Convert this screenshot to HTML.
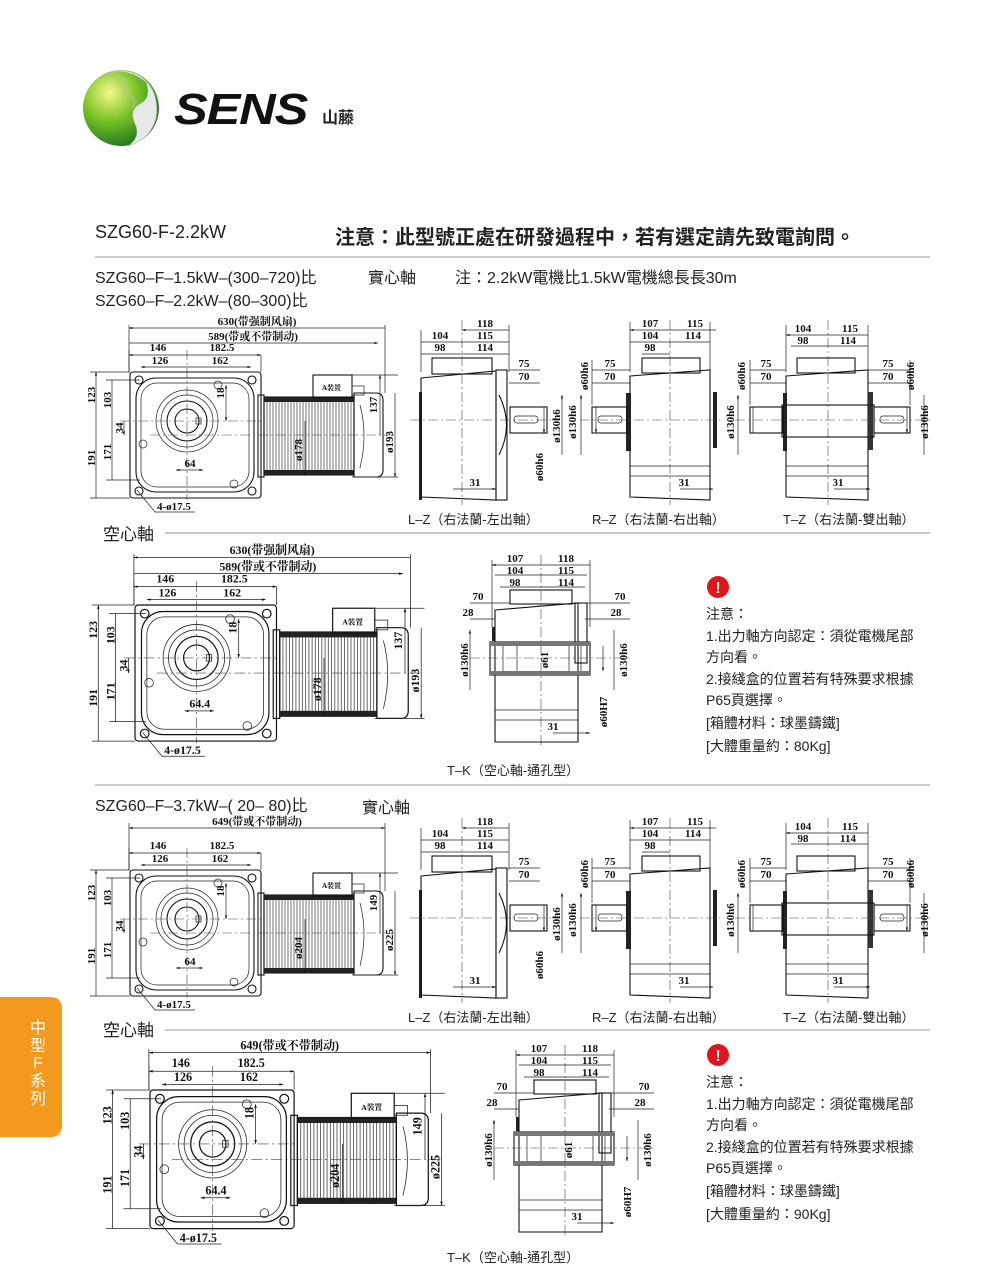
<!DOCTYPE html>
<html><head><meta charset="utf-8">
<style>
html,body{margin:0;padding:0;background:#fff}
svg{display:block}
.d{font-family:"Liberation Serif","Noto Serif CJK SC",serif;font-weight:bold;font-size:11px;fill:#111}
.s{font-family:"Liberation Sans","Noto Sans CJK TC",sans-serif;fill:#222}
.l{stroke:#222;stroke-width:0.7;fill:none}
.t{stroke:#111;stroke-width:1.1;fill:none}
.c{stroke:#444;stroke-width:0.6;stroke-dasharray:10 3 2 3;fill:none}
</style></head><body>
<svg width="1000" height="1281" viewBox="0 0 1000 1281" xmlns="http://www.w3.org/2000/svg">
<defs>
<radialGradient id="gg" cx="0.35" cy="0.3" r="0.8"><stop offset="0" stop-color="#f4f98a"/><stop offset="0.45" stop-color="#7cc427"/><stop offset="1" stop-color="#0f6a22"/></radialGradient>
<marker id="a" viewBox="0 0 6 6" refX="6" refY="3" markerWidth="5" markerHeight="5" orient="auto-start-reverse"><path d="M0,1 L6,3 L0,5z" fill="#111"/></marker>

<g id="front">
 <rect x="130" y="372" width="131" height="126" rx="3" class="t"/>
 <rect x="136" y="378" width="118" height="114" rx="20" class="t"/>
 <rect x="141" y="383" width="108" height="104" rx="16" class="l"/>
 <circle cx="139" cy="380" r="4" class="t"/><circle cx="252" cy="380" r="4" class="t"/>
 <circle cx="139" cy="491" r="4" class="t"/><circle cx="252" cy="491" r="4" class="t"/>
 <circle cx="218" cy="385" r="4" class="l"/><circle cx="143" cy="444" r="4" class="l"/><circle cx="234" cy="484" r="4" class="l"/>
 <circle cx="187" cy="421" r="31" class="l"/><circle cx="187" cy="421" r="26" class="l"/>
 <circle cx="187" cy="421" r="20" class="t"/><circle cx="187" cy="421" r="12" class="t"/>
 <rect x="196" y="418" width="5" height="6" class="l"/>
 <rect x="258" y="395" width="6" height="82" class="t" fill="#fff"/>
 <rect x="264" y="397" width="90" height="78" class="t"/>
 <path d="M267 397V475M270 397V475M273 397V475M276 397V475M279 397V475M282 397V475M285 397V475M288 397V475M291 397V475M294 397V475M297 397V475M300 397V475M303 397V475M306 397V475M309 397V475M312 397V475M315 397V475M318 397V475M321 397V475M324 397V475M327 397V475M330 397V475M333 397V475M336 397V475M339 397V475M342 397V475M345 397V475M348 397V475M351 397V475" stroke="#555" stroke-width="0.8"/>
 <rect x="264" y="397" width="90" height="5" fill="#222"/><rect x="264" y="470" width="90" height="5" fill="#222"/>
 <path d="M354 393 H376 Q383 393 383 400 V470 Q383 477 376 477 H354 Z" class="t"/>
 <path d="M360 405 Q368 435 360 468" class="l"/>
 <rect x="313" y="375" width="39" height="23" class="t" fill="#fff"/>
 <rect x="352" y="386" width="12" height="9" class="l"/>
 <text x="322" y="390" class="d" style="font-size:7px">A裝置</text>
 <path d="M120 421H265" class="c"/><path d="M150 435H395" class="c"/>
 <path d="M187 350V500" class="c"/>
 <path d="M129 350V372M261 355V372" class="l"/>
 <path d="M129 355H187M187 355H261" class="l" marker-start="url(#a)" marker-end="url(#a)"/>
 <path d="M141 367H187M187 367H251" class="l" marker-start="url(#a)" marker-end="url(#a)"/>
 <path d="M96 372V421M96 421V498M112 380V421M112 421V480M124 421V435" class="l" marker-start="url(#a)" marker-end="url(#a)"/>
 <path d="M90 372H130M90 498H130M106 380H140M106 480H140" class="l"/>
 <path d="M176 470H203" class="l" marker-start="url(#a)" marker-end="url(#a)"/>
 <path d="M226 385V421" class="l" marker-start="url(#a)" marker-end="url(#a)"/>
 <path d="M305 421V475" class="l" marker-end="url(#a)"/>
 <path d="M352 375H398M352 477H398" class="l"/>
 <path d="M380 375V435M395 393V477" class="l" marker-start="url(#a)" marker-end="url(#a)"/>
 <path d="M137 490L155 512H195" class="l"/>
 <text x="158" y="351" class="d" text-anchor="middle">146</text>
 <text x="222" y="351" class="d" text-anchor="middle">182.5</text>
 <text x="160" y="364" class="d" text-anchor="middle">126</text>
 <text x="220" y="364" class="d" text-anchor="middle">162</text>
 <text transform="translate(95,395) rotate(-90)" class="d" text-anchor="middle">123</text>
 <text transform="translate(95,458) rotate(-90)" class="d" text-anchor="middle">191</text>
 <text transform="translate(111,400) rotate(-90)" class="d" text-anchor="middle">103</text>
 <text transform="translate(111,452) rotate(-90)" class="d" text-anchor="middle">171</text>
 <text transform="translate(123,428) rotate(-90)" class="d" text-anchor="middle">34</text>
 <text transform="translate(224,393) rotate(-90)" class="d" text-anchor="middle">18</text>
 <text x="157" y="510" class="d">4-ø17.5</text>
</g>

<g id="sides">
 <rect x="419" y="392" width="3" height="108" fill="#222"/>
 <path d="M421 378 L496 371 V500 L421 497 Z" class="t" fill="#fff"/>
 <rect x="432" y="358" width="60" height="16" class="t"/>
 <rect x="496" y="370" width="11" height="130" class="t"/>
 <path d="M499 395 Q514 425 499 455" class="t"/>
 <rect x="510" y="407" width="37" height="26" class="t"/>
 <rect x="514" y="416" width="24" height="7" rx="3" class="l"/>
 <path d="M462 320V505M410 420H560" class="c"/>
 <path d="M421 330V372M509 325V372M421 354V372" class="l"/>
 <path d="M462 330H509M421 342H462M462 342H509M421 354H462M462 354H509M509 370H540M509 383H540M453 489H496" class="l" marker-start="url(#a)" marker-end="url(#a)"/>
 <path d="M562 395V455M544 407V433" class="l" marker-start="url(#a)" marker-end="url(#a)"/>
 <text x="485" y="327" class="d" text-anchor="middle">118</text>
 <text x="440" y="339" class="d" text-anchor="middle">104</text><text x="485" y="339" class="d" text-anchor="middle">115</text>
 <text x="440" y="351" class="d" text-anchor="middle">98</text><text x="485" y="351" class="d" text-anchor="middle">114</text>
 <text x="524" y="367" class="d" text-anchor="middle">75</text><text x="524" y="380" class="d" text-anchor="middle">70</text>
 <text transform="translate(560,426) rotate(-90)" class="d" text-anchor="middle">ø130h6</text>
 <text transform="translate(543,467) rotate(-90)" class="d" text-anchor="middle">ø60h6</text>
 <text x="475" y="486" class="d" text-anchor="middle">31</text>
 <rect x="713" y="392" width="4" height="56" fill="#222"/>
 <path d="M630 376 L710 370 V500 L630 497 Z" class="t" fill="#fff"/>
 <rect x="642" y="358" width="58" height="15" class="t"/>
 <rect x="626" y="393" width="5" height="58" fill="#222"/>
 <path d="M630 466H710M630 476H710" class="l"/>
 <rect x="592" y="407" width="35" height="26" class="t"/>
 <rect x="598" y="416" width="24" height="7" rx="3" class="l"/>
 <path d="M670 320V505M580 420H720" class="c"/>
 <path d="M630 322V372M710 322V372M592 360V405" class="l"/>
 <path d="M630 330H670M670 330H716M630 342H670M670 342H710M642 354H670M592 370H630M592 383H630M680 489H713" class="l" marker-start="url(#a)" marker-end="url(#a)"/>
 <path d="M581 395V455M596 407V433" class="l" marker-start="url(#a)" marker-end="url(#a)"/>
 <text x="650" y="327" class="d" text-anchor="middle">107</text><text x="695" y="327" class="d" text-anchor="middle">115</text>
 <text x="650" y="339" class="d" text-anchor="middle">104</text><text x="693" y="339" class="d" text-anchor="middle">114</text>
 <text x="650" y="351" class="d" text-anchor="middle">98</text>
 <text x="610" y="367" class="d" text-anchor="middle">75</text><text x="610" y="380" class="d" text-anchor="middle">70</text>
 <text transform="translate(588,376) rotate(-90)" class="d" text-anchor="middle">ø60h6</text>
 <text transform="translate(576,422) rotate(-90)" class="d" text-anchor="middle">ø130h6</text>
 <text x="684" y="486" class="d" text-anchor="middle">31</text>
 <path d="M786 376 L868 370 V500 L786 497 Z" class="t" fill="#fff"/>
 <rect x="797" y="358" width="58" height="15" class="t"/>
 <rect x="783" y="393" width="4" height="58" fill="#222"/>
 <rect x="868" y="392" width="5" height="58" fill="#333"/>
 <rect x="782" y="405" width="92" height="32" class="t" fill="#fff"/>
 <path d="M786 466H868M786 476H868" class="l"/>
 <rect x="750" y="407" width="33" height="26" class="t"/>
 <rect x="874" y="407" width="36" height="26" class="t"/>
 <rect x="880" y="416" width="24" height="7" rx="3" class="l"/>
 <path d="M828 320V505M735 420H930" class="c"/>
 <path d="M786 325V372M868 325V372M750 360V405M910 360V405" class="l"/>
 <path d="M786 335H828M828 335H868M791 346H828M828 346H868M750 370H786M750 383H786M868 370H910M868 383H910M834 489H870" class="l" marker-start="url(#a)" marker-end="url(#a)"/>
 <path d="M738 395V455M753 407V433M924 395V455M907 407V433" class="l" marker-start="url(#a)" marker-end="url(#a)"/>
 <text x="803" y="332" class="d" text-anchor="middle">104</text><text x="850" y="332" class="d" text-anchor="middle">115</text>
 <text x="803" y="344" class="d" text-anchor="middle">98</text><text x="848" y="344" class="d" text-anchor="middle">114</text>
 <text x="766" y="367" class="d" text-anchor="middle">75</text><text x="766" y="380" class="d" text-anchor="middle">70</text>
 <text x="888" y="367" class="d" text-anchor="middle">75</text><text x="888" y="380" class="d" text-anchor="middle">70</text>
 <text transform="translate(745,376) rotate(-90)" class="d" text-anchor="middle">ø60h6</text>
 <text transform="translate(914,376) rotate(-90)" class="d" text-anchor="middle">ø60h6</text>
 <text transform="translate(734,422) rotate(-90)" class="d" text-anchor="middle">ø130h6</text>
 <text transform="translate(928,422) rotate(-90)" class="d" text-anchor="middle">ø130h6</text>
 <text x="838" y="486" class="d" text-anchor="middle">31</text>
 <text x="408" y="524" class="s" font-size="13">L–Z（右法蘭-左出軸）</text>
 <text x="592" y="524" class="s" font-size="13">R–Z（右法蘭-右出軸）</text>
 <text x="783" y="524" class="s" font-size="13">T–Z（右法蘭-雙出軸）</text>
</g>

<g id="tk">
 <rect x="492" y="627" width="3" height="14" fill="#222"/>
 <path d="M495 610 L578 603 V742 L495 742 Z" class="t" fill="#fff"/>
 <rect x="510" y="590" width="62" height="14" class="t"/>
 <rect x="575" y="603" width="12" height="60" class="t"/>
 <rect x="490" y="642" width="100" height="33" class="t" fill="#fff"/>
 <rect x="490" y="642" width="100" height="4" fill="#777"/><rect x="490" y="671" width="100" height="4" fill="#777"/>
 <path d="M503 646V671M517 646V671M569 646V671M581 646V671" class="l"/>
 <path d="M495 710H578M495 720H578" class="l"/>
 <path d="M541 555V745M470 658H630" class="c"/>
 <path d="M492 560V627M590 560V627" class="l"/>
 <path d="M492 565H541M541 565H590M495 575H541M541 575H587M500 587H541M541 587H585M470 603H510M585 603H630M470 619H495M585 619H630M553 733H590" class="l" marker-start="url(#a)" marker-end="url(#a)"/>
 <path d="M470 630V690M614 630V690M603 646V671" class="l" marker-start="url(#a)" marker-end="url(#a)"/>
 <text x="515" y="562" class="d" text-anchor="middle">107</text><text x="566" y="562" class="d" text-anchor="middle">118</text>
 <text x="515" y="574" class="d" text-anchor="middle">104</text><text x="566" y="574" class="d" text-anchor="middle">115</text>
 <text x="515" y="586" class="d" text-anchor="middle">98</text><text x="566" y="586" class="d" text-anchor="middle">114</text>
 <text x="478" y="600" class="d" text-anchor="middle">70</text><text x="620" y="600" class="d" text-anchor="middle">70</text>
 <text x="468" y="616" class="d" text-anchor="middle">28</text><text x="616" y="616" class="d" text-anchor="middle">28</text>
 <text transform="translate(468,660) rotate(-90)" class="d" text-anchor="middle">ø130h6</text>
 <text transform="translate(627,660) rotate(-90)" class="d" text-anchor="middle">ø130h6</text>
 <text transform="translate(548,660) rotate(-90)" class="d" text-anchor="middle">ø61</text>
 <text transform="translate(607,712) rotate(-90)" class="d" text-anchor="middle">ø60H7</text>
 <text x="553" y="730" class="d" text-anchor="middle">31</text>
</g>

<g id="note">
 <circle cx="718" cy="587" r="11" fill="#e2141b"/>
 <text x="718" y="593" font-family="Liberation Sans" font-weight="bold" font-size="16" fill="#fff" text-anchor="middle">!</text>
 <g class="s" font-size="14">
 <text x="706" y="619">注意：</text>
 <text x="706" y="641">1.出力軸方向認定：須從電機尾部</text>
 <text x="706" y="662">方向看。</text>
 <text x="706" y="684">2.接綫盒的位置若有特殊要求根據</text>
 <text x="706" y="705">P65頁選擇。</text>
 <text x="706" y="728">[箱體材料：球墨鑄鐵]</text>
 </g>
</g>
</defs>

<circle cx="121" cy="108" r="38" fill="url(#gg)"/>
<path d="M104 74 Q126 66 146 82 Q152 98 140 104 Q128 110 136 126 Q140 138 128 146 Q150 140 156 118 Q160 90 140 76 Q122 66 104 74Z" fill="#e8e8e8" stroke="#bbb" stroke-width="0.6"/>
<path d="M108 78 Q116 72 126 80 Q120 90 130 96 Q138 100 132 108" fill="none" stroke="#bbb" stroke-width="1"/>
<text x="174" y="124" font-family="Liberation Sans" font-weight="bold" font-style="italic" font-size="44" fill="#111" transform="translate(174,124) scale(1.15,1) translate(-174,-124)" letter-spacing="-1">SENS</text>
<text x="322" y="123" class="s" font-size="16" font-weight="bold" fill="#111">山藤</text>

<text x="95" y="238" class="s" font-size="18">SZG60-F-2.2kW</text>
<text x="335" y="244" class="s" font-size="20" font-weight="bold" fill="#111">注意：此型號正處在研發過程中，若有選定請先致電詢問。</text>
<path d="M95 257H930" stroke="#999" stroke-width="1"/>
<text x="95" y="283" class="s" font-size="16">SZG60–F–1.5kW–(300–720)比</text>
<text x="368" y="283" class="s" font-size="16">實心軸</text>
<text x="455" y="283" class="s" font-size="16">注：2.2kW電機比1.5kW電機總長長30m</text>
<text x="95" y="306" class="s" font-size="16">SZG60–F–2.2kW–(80–300)比</text>

<use href="#front"/>
<g>
 <path d="M129 328H385M129 343H378" class="l" marker-start="url(#a)" marker-end="url(#a)"/>
 <path d="M129 325V372M385 325V393" class="l"/>
 <text x="257" y="325" class="d" text-anchor="middle">630(带强制风扇)</text>
 <text x="253" y="340" class="d" text-anchor="middle">589(带或不带制动)</text>
 <text x="190" y="467" class="d" text-anchor="middle">64</text>
 <text transform="translate(377,405) rotate(-90)" class="d" text-anchor="middle">137</text>
 <text transform="translate(393,442) rotate(-90)" class="d" text-anchor="middle">ø193</text>
 <text transform="translate(302,450) rotate(-90)" class="d" text-anchor="middle">ø178</text>
</g>
<use href="#sides"/>

<text x="103" y="540" class="s" font-size="17">空心軸</text>
<path d="M165 533H930" stroke="#999" stroke-width="1"/>
<g transform="translate(135,605) scale(1.08) translate(-130,-372)">
 <use href="#front"/>
 <path d="M129 328H385M129 343H378" class="l" marker-start="url(#a)" marker-end="url(#a)"/>
 <path d="M129 325V372M385 325V393" class="l"/>
 <text x="257" y="325" class="d" text-anchor="middle">630(带强制风扇)</text>
 <text x="253" y="340" class="d" text-anchor="middle">589(带或不带制动)</text>
 <text x="190" y="467" class="d" text-anchor="middle">64.4</text>
 <text transform="translate(377,405) rotate(-90)" class="d" text-anchor="middle">137</text>
 <text transform="translate(393,442) rotate(-90)" class="d" text-anchor="middle">ø193</text>
 <text transform="translate(302,450) rotate(-90)" class="d" text-anchor="middle">ø178</text>
</g>
<use href="#tk"/>
<text x="447" y="775" class="s" font-size="13">T–K（空心軸-通孔型）</text>
<use href="#note"/>
<text x="706" y="751" class="s" font-size="14">[大體重量約：80Kg]</text>

<path d="M95 785H930" stroke="#999" stroke-width="1"/>
<text x="95" y="811" class="s" font-size="16">SZG60–F–3.7kW–( 20– 80)比</text>
<text x="362" y="813" class="s" font-size="16">實心軸</text>
<g transform="translate(0,498)">
 <use href="#front"/>
 <path d="M129 330H385" class="l" marker-start="url(#a)" marker-end="url(#a)"/>
 <path d="M129 325V372M385 325V393" class="l"/>
 <text x="257" y="327" class="d" text-anchor="middle">649(带或不带制动)</text>
 <text x="190" y="467" class="d" text-anchor="middle">64</text>
 <text transform="translate(377,405) rotate(-90)" class="d" text-anchor="middle">149</text>
 <text transform="translate(393,442) rotate(-90)" class="d" text-anchor="middle">ø225</text>
 <text transform="translate(302,450) rotate(-90)" class="d" text-anchor="middle">ø204</text>
 <use href="#sides"/>
</g>

<text x="103" y="1036" class="s" font-size="17">空心軸</text>
<path d="M165 1030H930" stroke="#999" stroke-width="1"/>
<g transform="translate(150,1090) scale(1.1) translate(-130,-372)">
 <use href="#front"/>
 <path d="M129 338H385" class="l" marker-start="url(#a)" marker-end="url(#a)"/>
 <path d="M129 335V372M385 335V393" class="l"/>
 <text x="257" y="335" class="d" text-anchor="middle">649(带或不带制动)</text>
 <text x="190" y="467" class="d" text-anchor="middle">64.4</text>
 <text transform="translate(377,405) rotate(-90)" class="d" text-anchor="middle">149</text>
 <text transform="translate(393,442) rotate(-90)" class="d" text-anchor="middle">ø225</text>
 <text transform="translate(302,450) rotate(-90)" class="d" text-anchor="middle">ø204</text>
</g>
<g transform="translate(24,490)"><use href="#tk"/></g>
<text x="447" y="1262" class="s" font-size="13">T–K（空心軸-通孔型）</text>
<g transform="translate(0,468)"><use href="#note"/></g>
<text x="706" y="1219" class="s" font-size="14">[大體重量約：90Kg]</text>

<path d="M0 997H50Q62 997 62 1009V1125Q62 1137 50 1137H0Z" fill="#f39a1e"/>
<g class="s" font-size="16" text-anchor="middle" style="fill:#fff">
 <text x="38" y="1033" style="fill:#fff">中</text>
 <text x="38" y="1051" style="fill:#fff">型</text>
 <text x="38" y="1068" style="fill:#fff">F</text>
 <text x="38" y="1086" style="fill:#fff">系</text>
 <text x="38" y="1104" style="fill:#fff">列</text>
</g>
</svg>
</body></html>
